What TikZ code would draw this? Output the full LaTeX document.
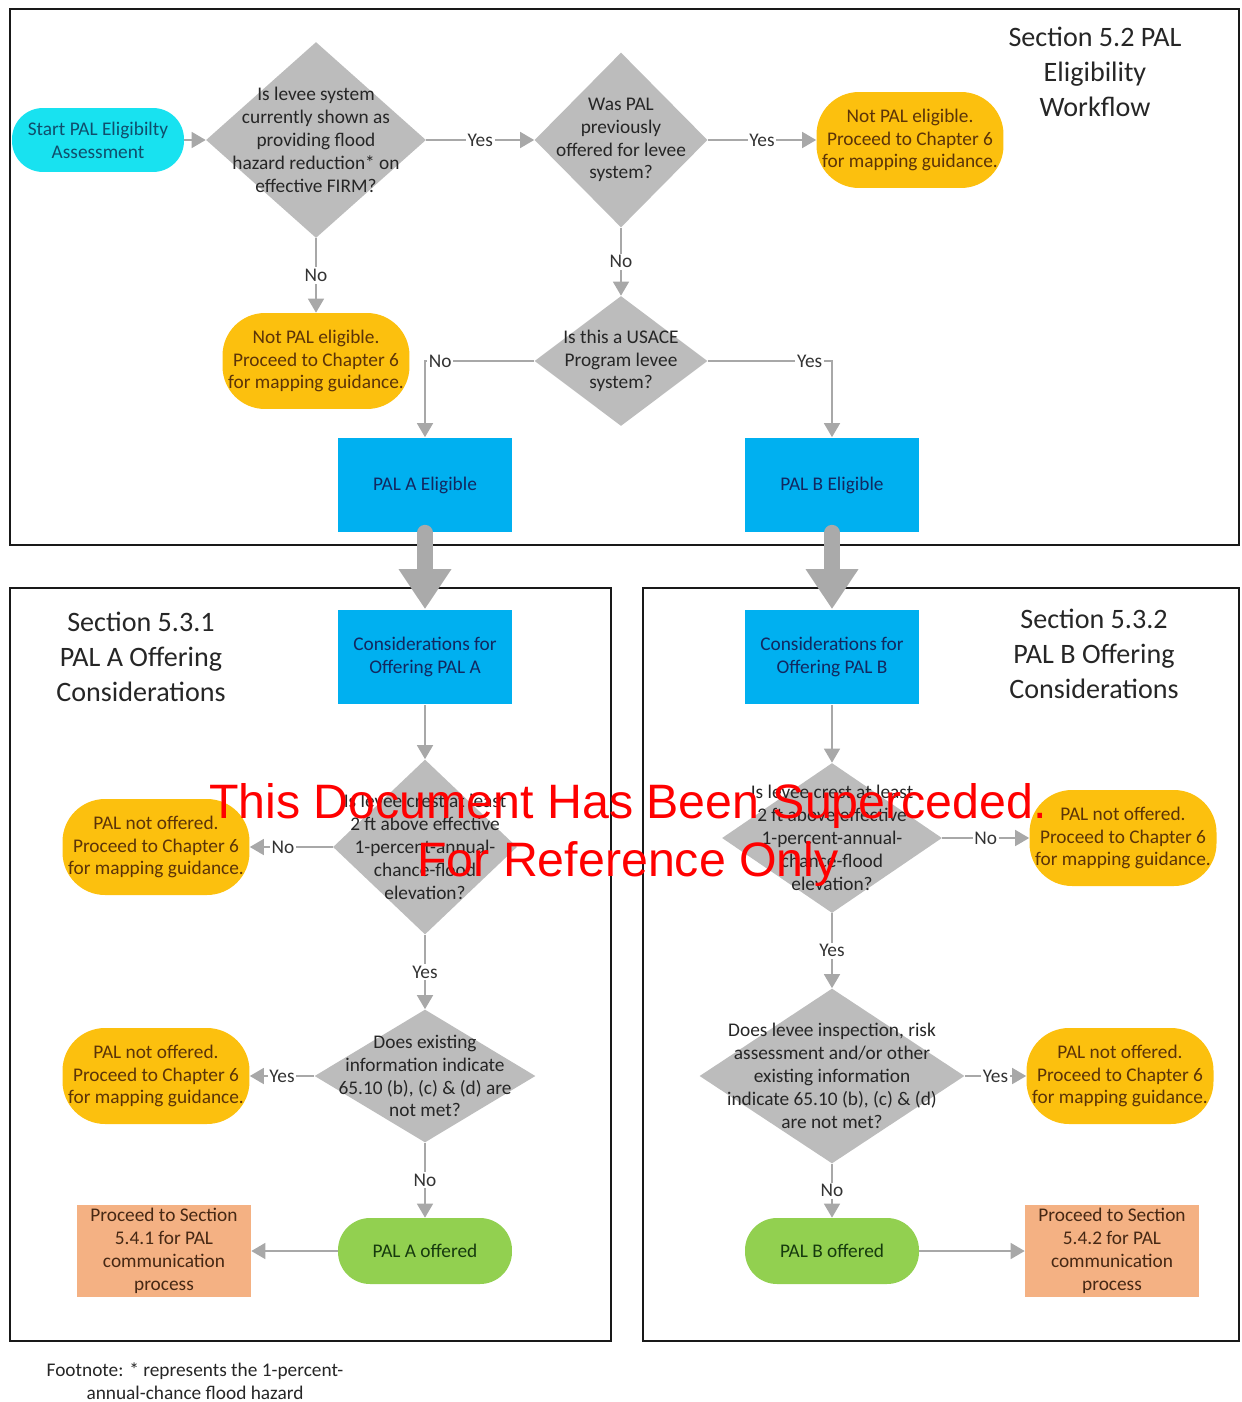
\documentclass[tikz,border=0pt]{standalone}
\usepackage{fontspec}
\setmainfont{Carlito}
\newfontfamily\wmfont{Liberation Sans}
\usetikzlibrary{shapes.geometric,arrows.meta}

\definecolor{startcyan}{RGB}{24,226,240}
\definecolor{starttext}{RGB}{16,78,108}
\definecolor{stoporange}{RGB}{252,192,14}
\definecolor{stoptext}{RGB}{92,52,8}
\definecolor{palblue}{RGB}{0,176,240}
\definecolor{bluetext}{RGB}{18,40,96}
\definecolor{okgreen}{RGB}{146,208,80}
\definecolor{greentext}{RGB}{22,58,14}
\definecolor{salmon}{RGB}{244,177,131}
\definecolor{salmontext}{RGB}{70,40,20}
\definecolor{askgray}{RGB}{188,188,188}
\definecolor{asktext}{RGB}{38,38,38}
\definecolor{linegray}{RGB}{168,168,168}
\definecolor{fatgray}{RGB}{170,170,170}

\tikzset{
  >={Triangle[length=0.28cm,width=0.32cm]},
  base/.style = {font=\fontsize{11}{13}\selectfont, align=center, inner sep=0pt},
  start/.style = {base, rectangle, rounded corners=0.62cm, fill=startcyan,
                  text=starttext, minimum width=3.44cm, minimum height=1.28cm},
  stop/.style = {base, rectangle, rounded corners=0.85cm, fill=stoporange,
                  text=stoptext, minimum width=3.74cm, minimum height=1.92cm},
  palbox/.style = {base, rectangle, fill=palblue, text=bluetext,
                  minimum width=3.48cm, minimum height=1.9cm},
  offered/.style = {base, rectangle, rounded corners=0.64cm, fill=okgreen,
                  text=greentext, minimum width=3.48cm, minimum height=1.32cm},
  nextstep/.style = {base, rectangle, fill=salmon, text=salmontext,
                  minimum width=3.48cm, minimum height=1.84cm},
  decision/.style = {diamond, fill=askgray, inner sep=0pt},
  qtext/.style = {base, text=asktext},
  heading/.style = {align=center, text=black!85,
                  font=\fontsize{16}{19.85}\selectfont},
  frame/.style = {draw=black!90, line width=1.2pt},
  flow/.style = {color=linegray, draw, line width=0.9pt, ->},
  lbl/.style = {font=\fontsize{11}{13}\selectfont, fill=white,
                  inner sep=1pt, text=black!80},
  bigflow/.style = {color=fatgray, draw, line width=0.32cm, line cap=round,
                  -{Triangle[length=0.8cm,width=1.0cm]}},
}

\begin{document}
\begin{tikzpicture}[x=0.02cm, y=-0.02cm]
\useasboundingbox (0,0) rectangle (1241,1402);

% frames
\draw[frame] (10,9) rectangle (1239,545);
\draw[frame] (10,588) rectangle (611,1341);
\draw[frame] (643,588) rectangle (1239,1341);

% section 5.2
\node[heading] (t52) at (1095,72) {Section 5.2 PAL\\Eligibility\\Workflow};
\node[start] (st) at (98,140) {Start PAL Eligibilty\\Assessment};
\node[decision, minimum width=4.4cm, minimum height=3.92cm,
  label={[qtext]center:{Is levee system\\currently shown as\\providing flood\\hazard reduction* on\\effective FIRM?}}]
  (d1) at (316,140) {};
\node[decision, minimum width=3.46cm, minimum height=3.5cm,
  label={[qtext]center:{Was PAL\\previously\\offered for levee\\system?}}]
  (d2) at (621,140) {};
\node[stop] (n1) at (910,140) {Not PAL eligible.\\Proceed to Chapter 6\\for mapping guidance.};
\node[stop] (n2) at (316,361) {Not PAL eligible.\\Proceed to Chapter 6\\for mapping guidance.};
\node[decision, minimum width=3.46cm, minimum height=2.6cm,
  label={[qtext]center:{Is this a USACE\\Program levee\\system?}}]
  (d3) at (621,361) {};
\node[palbox] (ea) at (425,485) {PAL A Eligible};
\node[palbox] (eb) at (832,485) {PAL B Eligible};

% section 5.3.1
\node[heading] (t531) at (141,657) {Section 5.3.1\\PAL A Offering\\Considerations};
\node[palbox] (ca) at (425,657) {Considerations for\\Offering PAL A};
\node[decision, minimum width=3.68cm, minimum height=3.5cm,
  label={[qtext]center:{Is levee crest at least\\2 ft above effective\\1-percent-annual-\\chance-flood\\elevation?}}]
  (d4) at (425,847) {};
\node[stop] (n3) at (156,847) {PAL not offered.\\Proceed to Chapter 6\\for mapping guidance.};
\node[decision, minimum width=4.42cm, minimum height=2.66cm,
  label={[qtext]center:{Does existing\\information indicate\\65.10 (b), (c) \& (d) are\\not met?}}]
  (d5) at (425,1076) {};
\node[stop] (n4) at (156,1076) {PAL not offered.\\Proceed to Chapter 6\\for mapping guidance.};
\node[offered] (oa) at (425,1251) {PAL A offered};
\node[nextstep] (pa) at (164,1251) {Proceed to Section\\5.4.1 for PAL\\communication\\process};

% section 5.3.2
\node[heading] (t532) at (1094,654) {Section 5.3.2\\PAL B Offering\\Considerations};
\node[palbox] (cb) at (832,657) {Considerations for\\Offering PAL B};
\node[decision, minimum width=4.4cm, minimum height=3.0cm,
  label={[qtext]center:{Is levee crest at least\\2 ft above effective\\1-percent-annual-\\chance-flood\\elevation?}}]
  (d6) at (832,838) {};
\node[stop] (n5) at (1123,838) {PAL not offered.\\Proceed to Chapter 6\\for mapping guidance.};
\node[decision, minimum width=5.3cm, minimum height=3.5cm,
  label={[qtext]center:{Does levee inspection, risk\\assessment and/or other\\existing information\\indicate 65.10 (b), (c) \& (d)\\are not met?}}]
  (d7) at (832,1076) {};
\node[stop] (n6) at (1120,1076) {PAL not offered.\\Proceed to Chapter 6\\for mapping guidance.};
\node[offered] (ob) at (832,1251) {PAL B offered};
\node[nextstep] (pb) at (1112,1251) {Proceed to Section\\5.4.2 for PAL\\communication\\process};

% connectors
\path[flow] (st) edge (d1);
\path[flow] (d1) edge node[lbl] {Yes} (d2);
\path[flow] (d2) edge node[lbl] {Yes} (n1);
\path[flow] (d1) edge node[lbl] {No} (n2);
\path[flow] (d2) edge node[lbl] {No} (d3);
\draw[flow] (d3) -| node[lbl, pos=.43] {No} (ea);
\draw[flow] (d3) -| node[lbl, pos=.41] {Yes} (eb);
\draw[bigflow] (ea.south) -- (ca.north);
\draw[bigflow] (eb.south) -- (cb.north);

\path[flow] (ca) edge (d4);
\path[flow] (d4) edge node[lbl, pos=.6] {No} (n3);
\path[flow] (d4) edge node[lbl] {Yes} (d5);
\path[flow] (d5) edge node[lbl] {Yes} (n4);
\path[flow] (d5) edge node[lbl] {No} (oa);
\path[flow] (oa) edge (pa);

\path[flow] (cb) edge (d6);
\path[flow] (d6) edge node[lbl] {No} (n5);
\path[flow] (d6) edge node[lbl] {Yes} (d7);
\path[flow] (d7) edge node[lbl] {Yes} (n6);
\path[flow] (d7) edge node[lbl] {No} (ob);
\path[flow] (ob) edge (pb);

% footnote and stamp
\node[base, text=black!85] (fn) at (195,1381) {Footnote: * represents the 1-percent-\\annual-chance flood hazard};
\node[align=center, text=red, font=\wmfont\fontsize{27.5}{33}\selectfont] (wm) at (628,835)
  {This Document Has Been Superceded.\\For Reference Only};
\end{tikzpicture}
\end{document}
